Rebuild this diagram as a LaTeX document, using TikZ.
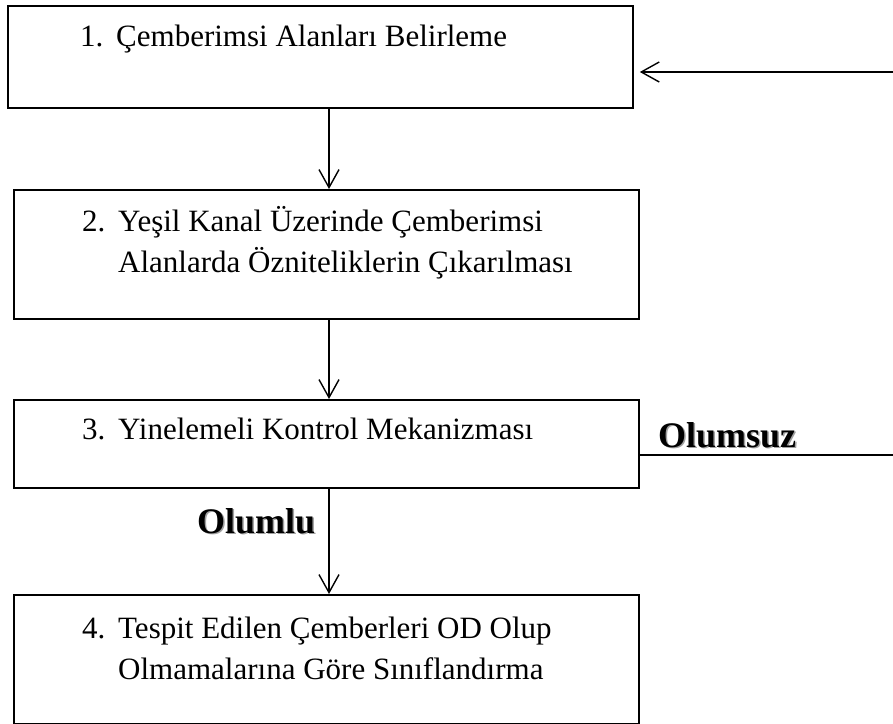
\documentclass[tikz,border=0pt]{standalone}
\usepackage{fontspec}
\setmainfont{Liberation Serif}
\usetikzlibrary{arrows.meta, positioning}
\definecolor{shadowgray}{RGB}{160,160,160}
\newcommand{\shadowlabel}[1]{\rlap{\kern1.5bp\raisebox{-1.5bp}{\textcolor{shadowgray}{#1}}}#1}
\newcommand{\stepitem}[2]{\begin{tabular}[t]{@{}p{36bp}@{}l@{}}#1 & #2\end{tabular}}
\tikzset{
  stepbox/.style={draw, line width=1.8bp, anchor=north west, inner sep=0pt, minimum width=625bp},
  steptext/.style={anchor=base west, inner sep=0pt, font=\fontsize{31bp}{41bp}\selectfont},
  flowarrow/.style={line width=1.4bp, -{Straight Barb[length=18bp, width=20bp, line width=1.4bp]}},
  flowline/.style={line width=1.4bp},
  branchlabel/.style={anchor=base west, inner sep=0pt, font=\fontsize{36bp}{40bp}\selectfont\bfseries}
}
\begin{document}
\begin{tikzpicture}[x=1bp, y=-1bp]
  \useasboundingbox (0,0) rectangle (893,724);
  % step boxes
  \node[stepbox, minimum height=102bp] (s1) at (7,5) {};
  \node[stepbox, minimum height=129bp] (s2) at (13,189) {};
  \node[stepbox, minimum height=88bp] (s3) at (13,399) {};
  \node[stepbox, minimum height=129bp] (s4) at (13,594) {};
  % step texts
  \node[steptext] (t1) at (80,47) {\stepitem{1.}{Çemberimsi Alanları Belirleme}};
  \node[steptext] (t2) at (82,231) {\stepitem{2.}{Yeşil Kanal Üzerinde Çemberimsi\\ & Alanlarda Özniteliklerin Çıkarılması}};
  \node[steptext] (t3) at (82,439) {\stepitem{3.}{Yinelemeli Kontrol Mekanizması}};
  \node[steptext] (t4) at (82,638) {\stepitem{4.}{Tespit Edilen Çemberleri OD Olup\\ & Olmamalarına Göre Sınıflandırma}};
  % connectors
  \coordinate (axis) at (329,0);
  \draw[flowarrow] (s1.south -| axis) -- (s2.north -| axis);
  \draw[flowarrow] (s2.south -| axis) -- (s3.north -| axis);
  \draw[flowarrow] (s3.south -| axis) -- (s4.north -| axis);
  \coordinate (loopin) at (893,72);
  \draw[flowarrow, shorten >=6bp] (loopin) -- (s1.east |- loopin);
  \coordinate (loopout) at (893,455);
  \draw[flowline] (s3.east |- loopout) -- (loopout);
  % branch labels
  \node[branchlabel] (neg) at (658,447) {\shadowlabel{Olumsuz}};
  \node[branchlabel] (pos) at (197,533) {\shadowlabel{Olumlu}};
\end{tikzpicture}
\end{document}
